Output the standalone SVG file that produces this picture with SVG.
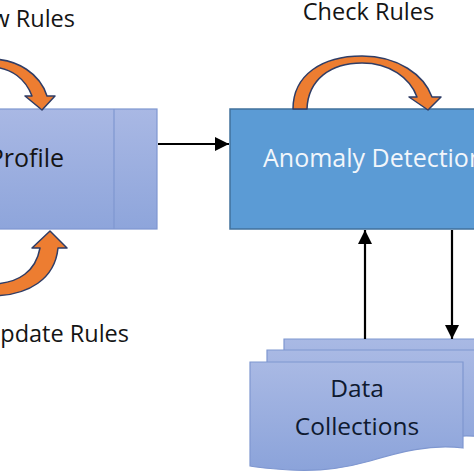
<svg xmlns="http://www.w3.org/2000/svg" width="474" height="474" viewBox="0 0 474 474">
<style>
.lbl{font-family:"Open Sans","Liberation Sans",sans-serif;fill:#141414}
.curve{fill:#ed7d31;stroke:#2f3d66;stroke-width:1.5;stroke-linejoin:round}
.conn{stroke:#000;stroke-width:2.2;fill:none}
.doc{fill:url(#docg);stroke:#7f97d0;stroke-width:1.2}
</style>
<defs>
<linearGradient id="profg" x1="0" y1="0" x2="0" y2="1">
<stop offset="0" stop-color="#a9b8e4"/>
<stop offset="1" stop-color="#8ea5db"/>
</linearGradient>
<linearGradient id="docg" x1="0" y1="0" x2="0" y2="1">
<stop offset="0" stop-color="#a9b9e4"/>
<stop offset="1" stop-color="#8ba3da"/>
</linearGradient>
<marker id="ah" markerUnits="userSpaceOnUse" markerWidth="16" markerHeight="14" refX="14" refY="7" orient="auto">
<path d="M0,0 L14,7 L0,14 Z" fill="#000"/>
</marker>
</defs>

<rect width="474" height="474" fill="#fff"/>

<g id="profile">
<rect x="-20" y="109" width="177" height="120" fill="url(#profg)" stroke="#7f97d0" stroke-width="1.2"/>
<line x1="114" y1="109" x2="114" y2="229" stroke="#7f97d0" stroke-width="1.2"/>
<text class="lbl" x="64" y="167" font-size="25" text-anchor="end">Profile</text>
</g>

<g id="anomaly-detection">
<rect x="230" y="109" width="270" height="120" fill="#5b9bd5" stroke="#41719c" stroke-width="1.5"/>
<text class="lbl" x="263" y="167" font-size="25" style="fill:#f2f6fb">Anomaly Detection</text>
</g>

<g id="data-collections">
<path class="doc" d="M284,339 H500 V425 C467,421 437,429 407,438 C382,445 357,449 327,447 C312,446 297,445 284,443 Z"/>
<path class="doc" d="M267,350 H484 V437 C451,433 421,441 391,450 C366,457 341,461 311,459 C296,458 281,457 267,455 Z"/>
<path class="doc" d="M250,362 H463 V448 C430,444 400,452 370,461 C345,468 320,472 290,470 C275,469 260,468 250,466 Z"/>
<text class="lbl" x="357" y="397" font-size="24.5" text-anchor="middle" style="fill:#0f1a30">Data</text>
<text class="lbl" x="357" y="435" font-size="24.5" text-anchor="middle" style="fill:#0f1a30">Collections</text>
</g>

<g id="new-rules">
<path class="curve" d="M-10,59 C18,59 40,74 47,96 L55,96 L42,110 L25,96 L32,96 C26,80 12,67 -10,67 Z"/>
<text class="lbl" x="75" y="27" font-size="23.5" text-anchor="end">New Rules</text>
</g>

<g id="check-rules">
<path class="curve" d="M293,109 C293,75 322,56 362,56 C398,56 424,75 432,97 L441,97 L428,110 L409,97 L417,97 C410,78 390,63 362,63 C330,63 308,80 307,109 Z"/>
<text class="lbl" x="368.5" y="20" font-size="23.5" text-anchor="middle">Check Rules</text>
</g>

<g id="update-rules">
<path class="curve" d="M50,231 L67,248 L58,248 C55,278 30,296 -10,296 L-10,284 C20,284 36,270 40,248 L32,248 Z"/>
<text class="lbl" x="129" y="342" font-size="23.5" text-anchor="end">Update Rules</text>
</g>

<g id="connectors">
<line class="conn" x1="158" y1="144" x2="229" y2="144" marker-end="url(#ah)"/>
<line class="conn" x1="365" y1="339" x2="365" y2="230" marker-end="url(#ah)"/>
<line class="conn" x1="452" y1="230" x2="452" y2="339" marker-end="url(#ah)"/>
</g>
</svg>
